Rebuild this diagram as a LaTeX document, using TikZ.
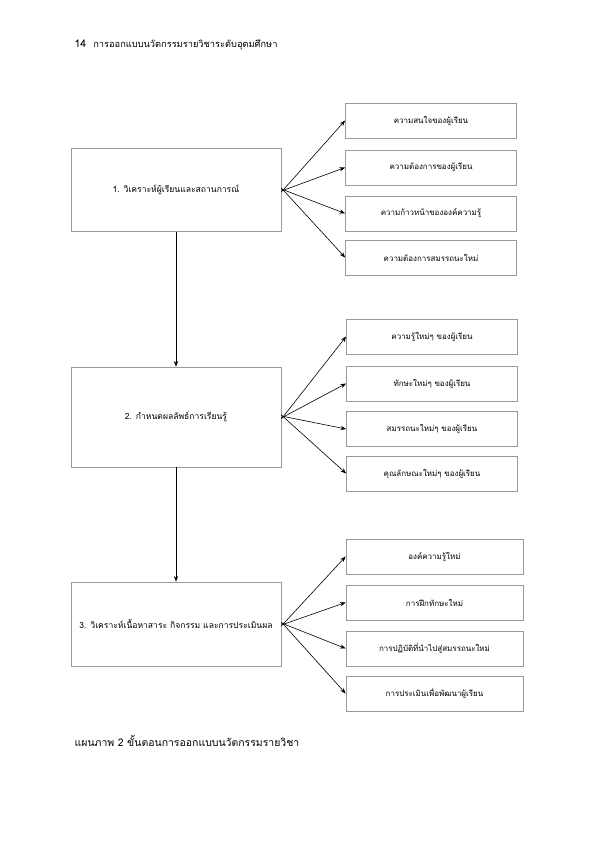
\documentclass[tikz,border=0pt]{standalone}
\usepackage{fontspec}
\setmainfont[Script=Thai]{Loma}
\usetikzlibrary{arrows.meta, positioning}
\definecolor{cframe}{HTML}{9A9A9A}
\tikzset{
  every picture/.style={line width=0.7pt},
  stage/.style={draw=cframe, fill=white, minimum width=210bp, minimum height=83bp, font=\fontsize{8.6}{10}\selectfont, inner sep=2pt},
  item/.style={draw=cframe, fill=white, minimum width=171bp, minimum height=35bp, font=\fontsize{8}{9.5}\selectfont, inner sep=2pt},
  arrow/.style={-{Stealth[length=2mm, width=1.5mm]}, draw=black, line width=0.6pt},
  label/.style={font=\fontsize{10.5}{12}\selectfont, anchor=west},
}

\begin{document}
\begin{tikzpicture}[x=1bp, y=-1bp]
  \useasboundingbox (0,0) rectangle (595,842);
  \node[label] (head) at (71, 45) {14 \ \fontsize{9.3}{11}\selectfont การออกแบบนวัตกรรมรายวิชาระดับอุดมศึกษา};
  % stage 1
  \node[stage] (s1) at (176, 190) {1. วิเคราะห์ผู้เรียนและสถานการณ์};
  \node[item] (a1) at (431, 120.5) {ความสนใจของผู้เรียน};
  \node[item] (a2) at (431, 167.5) {ความต้องการของผู้เรียน};
  \node[item] (a3) at (431, 213.5) {ความก้าวหน้าขององค์ความรู้};
  \node[item] (a4) at (431, 257.5) {ความต้องการสมรรถนะใหม่};
  \draw[arrow] ([yshift=-2bp]s1.east) -- (a1.west); \draw[arrow] ([yshift=-1bp]s1.east) -- (a2.west);
  \draw[arrow] ([yshift=1bp]s1.east) -- (a3.west); \draw[arrow] ([yshift=2bp]s1.east) -- (a4.west);
  % stage 2
  \node[stage, minimum height=100bp] (s2) at (176, 417) {2. กำหนดผลลัพธ์การเรียนรู้};
  \node[item] (b1) at (432, 336.5) {ความรู้ใหม่ๆ ของผู้เรียน};
  \node[item] (b2) at (432, 383.5) {ทักษะใหม่ๆ ของผู้เรียน};
  \node[item] (b3) at (432, 429) {สมรรถนะใหม่ๆ ของผู้เรียน};
  \node[item] (b4) at (432, 473.5) {คุณลักษณะใหม่ๆ ของผู้เรียน};
  \draw[arrow] ([yshift=-2bp]s2.east) -- (b1.west); \draw[arrow] ([yshift=-1bp]s2.east) -- (b2.west);
  \draw[arrow] ([yshift=1bp]s2.east) -- (b3.west); \draw[arrow] ([yshift=2bp]s2.east) -- (b4.west);
  % stage 3
  \node[stage, minimum height=84bp] (s3) at (176, 624) {3. วิเคราะห์เนื้อหาสาระ กิจกรรม และการประเมินผล};
  \node[item, minimum width=177bp] (c1) at (434.5, 556.5) {องค์ความรู้ใหม่};
  \node[item, minimum width=177bp] (c2) at (434.5, 602.5) {การฝึกทักษะใหม่};
  \node[item, minimum width=177bp] (c3) at (434.5, 648.5) {การปฏิบัติที่นำไปสู่สมรรถนะใหม่};
  \node[item, minimum width=177bp] (c4) at (434.5, 693.5) {การประเมินเพื่อพัฒนาผู้เรียน};
  \draw[arrow] ([yshift=-2bp]s3.east) -- (c1.west); \draw[arrow] ([yshift=-1bp]s3.east) -- (c2.west);
  \draw[arrow] ([yshift=1bp]s3.east) -- (c3.west); \draw[arrow] ([yshift=2bp]s3.east) -- (c4.west);
  % down the stages
  \draw[arrow] (s1) -- (s2); \draw[arrow] (s2) -- (s3);
  \node[label] (cap) at (71, 741) {แผนภาพ 2 ขั้นตอนการออกแบบนวัตกรรมรายวิชา};
\end{tikzpicture}
\end{document}
